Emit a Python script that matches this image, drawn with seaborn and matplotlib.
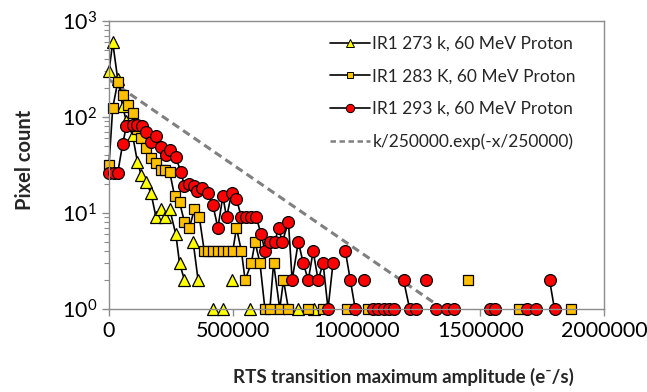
"""
RTS transition maximum amplitude histogram (IR1, 60 MeV proton) on a log y axis.
"""

import matplotlib
matplotlib.use("Agg")
import matplotlib.pyplot as plt
from matplotlib.lines import Line2D
from matplotlib.ticker import FixedLocator, LogLocator, NullFormatter
import pandas as pd
import seaborn as sns

# ---------------------------------------------------------------------------
# Data (None = empty bin, the line breaks there)
# ---------------------------------------------------------------------------
T273_X = [0, 15000, 35000, 55000, 70000, 95000, 115000, 130000, 150000, 170000,
          190000, 210000, 225000, 245000, 270000, 285000, 305000, None,
          340000, 360000, None, 420000, None, 460000, None, 495000, None,
          570000, None, 765000, None, 830000]
T273_Y = [300, 600, 250, 130, 90, 65, 34, 25, 21, 16,
          9, 11, 9, 11, 6, 3, 2, None,
          5, 2, None, 1, None, 1, None, 2, None,
          1, None, 1, None, 1]

S283_X = [0, 15000, 35000, 55000, 75000, 95000, 115000, 130000, 150000, 170000,
          190000, 210000, 225000, 245000, 265000, 285000, 305000, 325000, 345000, 365000,
          385000, 400000, 420000, 440000, 460000, 480000, 500000, 515000, 535000, 550000,
          575000, 590000, 610000, 630000, 650000, 665000, 690000, 705000, 725000, None,
          805000, None, 865000, None, 960000, None, 1045000, None, 1450000, None,
          1655000, None, 1865000]
S283_Y = [32, 124, 230, 170, 133, 110, 75, 60, 47, 37,
          33, 28, 28, 27, 15, 13, 8, 7, 11, 9,
          4, 4, 4, 4, 4, 4, 4, 7, 4, 2,
          3, 5, 3, 1, 1, 3, 1, 2, 1, None,
          1, None, 1, None, 1, None, 1, None, 2, None,
          1, None, 1]

R293_X = [0, 20000, 35000, 55000, 70000, 95000, 115000, 135000, 150000, 170000,
          190000, 210000, 230000, 245000, 270000, 290000, 305000, 325000, 345000, 355000,
          375000, 400000, 420000, 440000, 460000, 475000, 495000, 515000, 535000, 555000,
          575000, 595000, 615000, 630000, 650000, 670000, 685000, 700000, 725000, 740000,
          765000, 785000, 805000, 825000, 845000, 865000, 885000, 905000, None,
          955000, 975000, 995000, None, 1030000, None,
          1065000, 1085000, 1110000, 1130000, 1150000, None,
          1190000, 1215000, 1240000, None, 1280000, None, 1320000, None,
          1365000, None, 1395000, None, 1540000, 1560000, None,
          1690000, None, 1725000, None, 1780000, 1800000]
R293_Y = [26, 26, 26, 52, 80, 82, 82, 80, 70, 55,
          63, 49, 40, 45, 38, 27, 19, 20, 19, 17,
          18, 16, 12, 7, 15, 9, 16, 14, 9, 9,
          9, 9, 6, 4, 5, 5, 7, 5, 8, 2,
          5, 3, 2, 4, 2, 3, 1, 3, None,
          4, 2, 1, None, 2, None,
          1, 1, 1, 1, 1, None,
          2, 1, 1, None, 2, None, 1, None,
          1, None, 1, None, 1, 1, None,
          1, None, 1, None, 2, 1]

# k/250000.exp(-x/250000): a straight line on the log axis, two end points
FIT_X = [0, 1350000]
FIT_Y = [245, 1]

LABELS = ["IR1 273 k, 60 MeV Proton", "IR1 283 K, 60 MeV Proton",
          "IR1 293 k, 60 MeV Proton", "k/250000.exp(-x/250000)"]
X_TICKS = [0, 500000, 1000000, 1500000, 2000000]

FONT = ["Lato", "DejaVu Sans"]


def to_frame(xs, ys):
    """Split a list with None breaks into segments for seaborn's units."""
    rows, seg = [], 0
    for x, y in zip(xs, ys):
        if x is None:
            seg += 1
            continue
        rows.append({"x": x, "count": y, "seg": seg})
    return pd.DataFrame(rows)


def main():
    sns.set_theme(style="white")
    plt.rcParams["font.family"] = FONT

    fig = plt.figure(figsize=(6.47, 3.92), dpi=100)
    ax = fig.add_axes([109 / 647, 1 - 309 / 392, 495 / 647, 288 / 392])

    fit = pd.DataFrame({"x": FIT_X, "count": FIT_Y})
    sns.lineplot(data=fit, x="x", y="count", ax=ax, color="#808080",
                 lw=2.2, dashes=False, linestyle=(0, (2.6, 1.6)), legend=False)

    series = [
        (T273_X, T273_Y, "^", "#ffff00", 8.5),
        (S283_X, S283_Y, "s", "#ffc000", 7.0),
        (R293_X, R293_Y, "o", "#ff0000", 8.5),
    ]
    for xs, ys, marker, face, ms in series:
        sns.lineplot(data=to_frame(xs, ys), x="x", y="count", units="seg",
                     estimator=None, sort=False, ax=ax, color="black", lw=1.2,
                     marker=marker, markersize=ms, markerfacecolor=face,
                     markeredgecolor="black", markeredgewidth=0.9,
                     clip_on=False, legend=False)

    ax.set_yscale("log")
    ax.set_ylim(1, 1000)
    ax.set_xlim(0, 2000000)
    ax.xaxis.set_major_locator(FixedLocator(X_TICKS))
    ax.set_xticklabels([str(t) for t in X_TICKS])
    ax.yaxis.set_major_locator(LogLocator(base=10, numticks=10))
    ax.yaxis.set_minor_locator(LogLocator(base=10, subs=range(2, 10), numticks=10))
    ax.yaxis.set_minor_formatter(NullFormatter())

    for spine in ax.spines.values():
        spine.set_color("#8c8c8c")
        spine.set_linewidth(1.0)
    ax.tick_params(axis="both", which="major", direction="out", length=5,
                   width=1.0, color="#8c8c8c", labelsize=15.5, labelcolor="black")
    ax.tick_params(axis="y", which="minor", direction="out", length=3.5,
                   width=0.8, color="#8c8c8c", left=True)
    ax.tick_params(axis="x", which="both", bottom=True)
    ax.tick_params(axis="y", which="both", left=True)

    ax.set_xlabel("RTS transition maximum amplitude (e\u207b/s)",
                  fontsize=13.5, fontweight="bold")
    ax.set_ylabel("Pixel count", fontsize=14.5, fontweight="bold")
    ax.xaxis.set_label_coords((403 - 109) / 495, (309 - 368) / 288)
    ax.yaxis.set_label_coords((35 - 109) / 495, (309 - 160) / 288)

    handles = [
        Line2D([], [], color="black", lw=1.2, marker="^", markersize=6,
               markerfacecolor="#ffff00", markeredgecolor="black", markeredgewidth=0.7),
        Line2D([], [], color="black", lw=1.2, marker="s", markersize=5,
               markerfacecolor="#ffc000", markeredgecolor="black", markeredgewidth=0.7),
        Line2D([], [], color="black", lw=1.2, marker="o", markersize=6,
               markerfacecolor="#ff0000", markeredgecolor="black", markeredgewidth=0.7),
        Line2D([], [], color="#808080", lw=1.8, linestyle=(0, (2.2, 1.4))),
    ]
    ax.legend(handles, LABELS, loc="upper left", bbox_to_anchor=(0.446, 0.948),
              frameon=False, fontsize=12.5, handlelength=2.3, handletextpad=0.15,
              labelspacing=0.95, borderpad=0, borderaxespad=0)

    fig.savefig("out.png", dpi=100, facecolor="white")
    plt.close(fig)


if __name__ == "__main__":
    main()
